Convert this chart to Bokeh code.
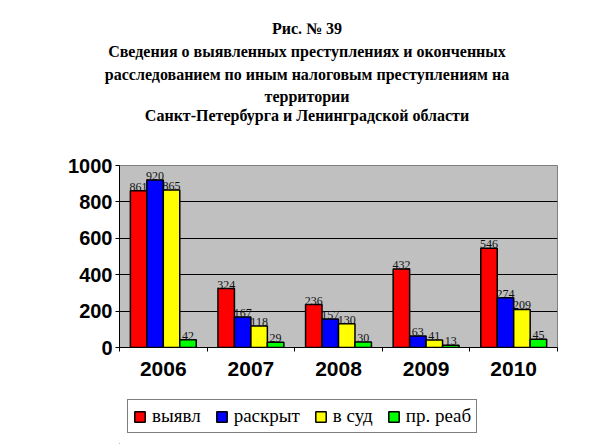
from bokeh.plotting import figure
from bokeh.layouts import column
from bokeh.models import (ColumnDataSource, FactorRange, Range1d, FixedTicker, LinearAxis,
                          CategoricalAxis, Legend, LegendItem, Div)
from bokeh.transform import dodge
from bokeh.core.properties import value
from bokeh.embed import file_html
from bokeh.resources import INLINE

years = ["2006", "2007", "2008", "2009", "2010"]
series_names = ["выявл", "раскрыт", "в суд", "пр. реаб"]
vyyavl = [861, 324, 236, 432, 546]
raskryt = [920, 167, 157, 63, 274]
v_sud = [865, 118, 130, 41, 209]
pr_reab = [42, 29, 30, 13, 45]
colors = ["#FF0000", "#0000FF", "#FFFF00", "#00FF00"]
y_ticks = [0, 200, 400, 600, 800, 1000]
title_lines = [
    "Рис. № 39",
    "Сведения о выявленных преступлениях и оконченных",
    "расследованием по иным налоговым преступлениям на",
    "территории",
    "Санкт-Петербурга и Ленинградской области",
]

series = [vyyavl, raskryt, v_sud, pr_reab]
keys = ["s0", "s1", "s2", "s3"]
data = {"year": years}
for k, s in zip(keys, series):
    data[k] = s
    data[k + "_t"] = [str(v) for v in s]
src = ColumnDataSource(data)

W = 612
TITLE_H, PLOT_H, LEG_H = 140, 250, 54
FL, FR = 119, 557
FT, FB = 165 - TITLE_H, 347 - TITLE_H  # frame edges inside the plot

# ---- title block (each line placed at its own vertical centre) ----
line_centres = [29, 52, 75, 97, 116]
LH = 20
html = (f"<div style='position:relative;width:614px;height:{TITLE_H}px;"
        "font-family:\"Liberation Serif\",\"Times New Roman\",serif;font-weight:bold;"
        "font-size:16px;color:black;'>")
for line, cy in zip(title_lines, line_centres):
    html += (f"<div style='position:absolute;left:0;top:{cy - LH // 2}px;width:614px;"
             f"line-height:{LH}px;height:{LH}px;white-space:nowrap;text-align:center;'>"
             f"{line}</div>")
html += "</div>"
title_div = Div(text=html, width=614, height=TITLE_H, margin=(0, 0, 0, 0))

# ---- main plot ----
p = figure(width=W, height=PLOT_H, x_range=FactorRange(*years), y_range=Range1d(0, 1000),
           output_backend="svg", toolbar_location=None, x_axis_location=None,
           min_border_left=FL, min_border_right=W - FR, min_border_top=FT,
           min_border_bottom=PLOT_H - FB, background_fill_color="#C0C0C0",
           border_fill_color="white", outline_line_color="#808080", margin=(0, 0, 0, 0))

p.xgrid.visible = False
p.ygrid.grid_line_color = "black"
p.ygrid.grid_line_width = 1

ya = p.yaxis[0]
ya.ticker = FixedTicker(ticks=y_ticks)
ya.axis_line_color = "black"
ya.major_tick_out = 4
ya.major_tick_in = 0
ya.minor_tick_line_color = None
ya.major_label_text_font = "Liberation Sans"
ya.major_label_text_font_style = "bold"
ya.major_label_text_font_size = "20px"
ya.major_label_text_color = "black"
ya.major_label_standoff = 3

# boundary ticks between categories (synthetic coordinates of the factor range)
tick_axis = LinearAxis(ticker=FixedTicker(ticks=list(range(len(years) + 1))))
tick_axis.axis_line_color = "black"
tick_axis.major_tick_out = 4
tick_axis.major_tick_in = 0
tick_axis.minor_tick_line_color = None
tick_axis.major_label_text_font_size = "1px"
tick_axis.major_label_text_color = None
tick_axis.major_label_standoff = 0
p.add_layout(tick_axis, "below")

cat_axis = CategoricalAxis()
cat_axis.axis_line_color = None
cat_axis.major_tick_line_color = None
cat_axis.major_label_text_font = "Liberation Sans"
cat_axis.major_label_text_font_style = "bold"
cat_axis.major_label_text_font_size = "21px"
cat_axis.major_label_text_color = "black"
cat_axis.major_label_standoff = 4
p.add_layout(cat_axis, "below")

bw = 0.188
offsets = [-1.5 * bw, -0.5 * bw, 0.5 * bw, 1.5 * bw]
for k, c, off in zip(keys, colors, offsets):
    p.vbar(x=dodge("year", off, range=p.x_range), top=k, width=bw, source=src,
           fill_color=c, line_color="black", line_width=1.5)
    p.text(x=dodge("year", off, range=p.x_range), y=k, text=k + "_t", source=src,
           text_align="center", text_baseline="bottom",
           text_font=value("Liberation Serif"), text_font_size="12px", text_color="#111111")

# ---- legend strip (its frame is aligned with the main plot's frame) ----
lf = figure(width=W, height=LEG_H, x_range=Range1d(0, 1), y_range=Range1d(0, 1),
            output_backend="svg", toolbar_location=None, x_axis_location=None,
            y_axis_location=None, min_border_left=FL, min_border_right=W - FR,
            min_border_top=0, min_border_bottom=0, outline_line_color=None,
            margin=(0, 0, 0, 0))
lf.xgrid.visible = False
lf.ygrid.visible = False
items = []
for name, c in zip(series_names, colors):
    # legend swatch renderers, kept outside the visible range
    r = lf.vbar(x=[-5], top=[-5], width=0.1, fill_color=c, line_color="black", line_width=1.5)
    items.append(LegendItem(label=name, renderers=[r]))

legend = Legend(items=items, orientation="horizontal", location=(127 - FL, LEG_H - (433 - 390)),
                border_line_color="black", border_line_width=1, background_fill_color="white",
                background_fill_alpha=1, padding=5, spacing=14, label_standoff=6,
                glyph_width=13, glyph_height=13, margin=0,
                label_text_font="Liberation Serif", label_text_font_size="19px",
                label_text_color="black")
lf.add_layout(legend, "center")

layout = column(title_div, p, lf, spacing=0)
open("out.html", "w").write(file_html(layout, INLINE))
